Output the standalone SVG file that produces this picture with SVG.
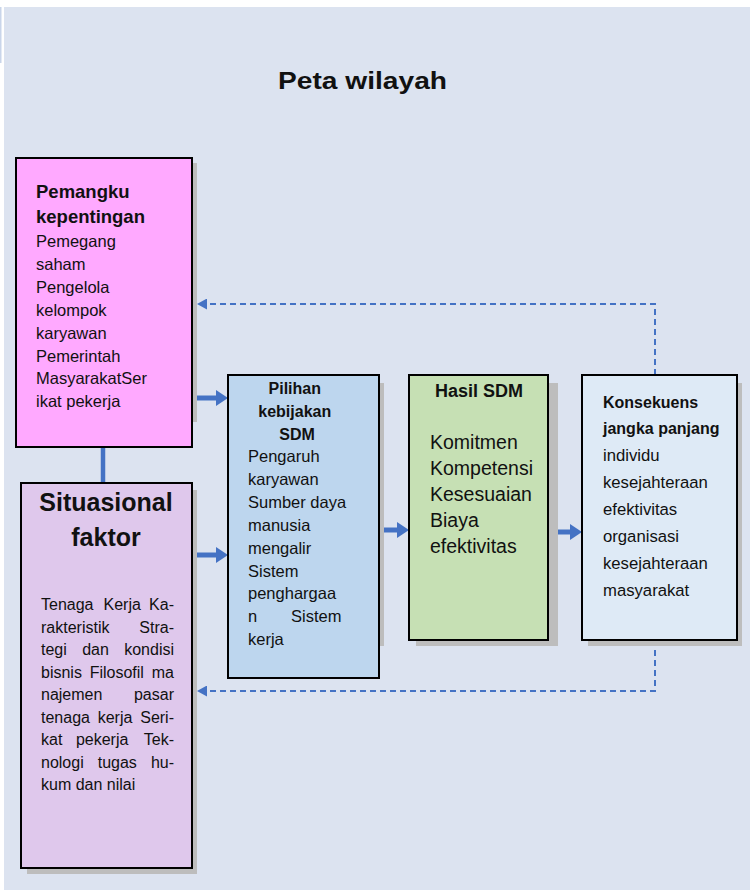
<svg xmlns="http://www.w3.org/2000/svg" width="750" height="890" viewBox="0 0 750 890">
  <style>
    text { font-family: "Liberation Sans", Arial, sans-serif; fill: #111; }
    .b { font-weight: bold; }
    .box { stroke: #000; stroke-width: 2; }
    .shadow { fill: #bdbdbd; }
    .flow { stroke: #4472C4; stroke-width: 5; fill: none; }
    .fb { stroke: #4472C4; stroke-width: 2; stroke-dasharray: 6 4; fill: none; }
    .t16 { font-size: 16px; }
    .t165 { font-size: 16.5px; }
  </style>
  <defs>
    <marker id="head" markerUnits="userSpaceOnUse" markerWidth="13" markerHeight="16" refX="4" refY="8" orient="auto">
      <path d="M0,0 L12,8 L0,16 z" fill="#4472C4"/>
    </marker>
    <marker id="headSmall" markerUnits="userSpaceOnUse" markerWidth="11" markerHeight="11" refX="3" refY="5.5" orient="auto">
      <path d="M0,0 L10,5.5 L0,11 z" fill="#4472C4"/>
    </marker>
  </defs>

  <!-- page -->
  <rect x="0" y="0" width="750" height="890" fill="#ffffff"/>
  <rect x="4" y="7" width="746" height="883" fill="#dce3f0"/>
  <rect x="0" y="7" width="1.5" height="56" fill="#c9d5ea"/>

  <text x="362.5" y="89" class="b" font-size="24" text-anchor="middle" textLength="169" lengthAdjust="spacingAndGlyphs">Peta wilayah</text>

  <!-- connectors -->
  <g id="connectors">
    <line x1="103" y1="447" x2="103" y2="483" stroke="#4472C4" stroke-width="4.5"/>
    <line class="flow" x1="197" y1="398" x2="220" y2="398" marker-end="url(#head)"/>
    <line class="flow" x1="197" y1="555" x2="220" y2="555" marker-end="url(#head)"/>
    <line class="flow" x1="380" y1="530" x2="401" y2="530" marker-end="url(#head)"/>
    <line class="flow" x1="552" y1="532" x2="574" y2="532" marker-end="url(#head)"/>
    <path class="fb" d="M655,375 V304 H204" marker-end="url(#headSmall)"/>
    <path class="fb" d="M655,640 V691 H204" marker-end="url(#headSmall)"/>
  </g>

  <!-- Pemangku kepentingan -->
  <g id="stakeholders">
    <rect class="shadow" x="21" y="163" width="176" height="259"/>
    <rect class="box" x="16" y="158" width="176" height="289" fill="#ffa9ff"/>
    <text class="b" font-size="18.5" x="36" y="198">Pemangku</text>
    <text class="b" font-size="18.5" x="36" y="223">kepentingan</text>
    <text class="t165" x="36">
      <tspan x="36" y="247">Pemegang</tspan>
      <tspan x="36" y="270">saham</tspan>
      <tspan x="36" y="293">Pengelola</tspan>
      <tspan x="36" y="316">kelompok</tspan>
      <tspan x="36" y="338.5">karyawan</tspan>
      <tspan x="36" y="361.5">Pemerintah</tspan>
      <tspan x="36" y="384">MasyarakatSer</tspan>
      <tspan x="36" y="407">ikat pekerja</tspan>
    </text>
  </g>

  <!-- Situasional faktor -->
  <g id="situational">
    <rect class="shadow" x="27" y="490" width="170" height="384"/>
    <rect class="box" x="21" y="483" width="171" height="385" fill="#dfc8ec"/>
    <text class="b" font-size="25" x="106" y="511" text-anchor="middle">Situasional</text>
    <text class="b" font-size="25" x="106" y="546" text-anchor="middle">faktor</text>
    <g class="t16">
      <text class="t16" y="610"><tspan x="41">Tenaga</tspan><tspan x="103.5">Kerja</tspan><tspan x="174" text-anchor="end">Ka-</tspan></text>
      <text class="t16" y="632.5"><tspan x="41">rakteristik</tspan><tspan x="174" text-anchor="end">Stra-</tspan></text>
      <text class="t16" y="655"><tspan x="41">tegi</tspan><tspan x="82.2">dan</tspan><tspan x="174" text-anchor="end">kondisi</tspan></text>
      <text class="t16" y="677.5"><tspan x="41">bisnis</tspan><tspan x="89.7">Filosofil</tspan><tspan x="174" text-anchor="end">ma</tspan></text>
      <text class="t16" y="700"><tspan x="41">najemen</tspan><tspan x="174" text-anchor="end">pasar</tspan></text>
      <text class="t16" y="722.5"><tspan x="41">tenaga</tspan><tspan x="97.7">kerja</tspan><tspan x="174" text-anchor="end">Seri-</tspan></text>
      <text class="t16" y="745"><tspan x="41">kat</tspan><tspan x="75.9">pekerja</tspan><tspan x="174" text-anchor="end">Tek-</tspan></text>
      <text class="t16" y="767.5"><tspan x="41">nologi</tspan><tspan x="97.7">tugas</tspan><tspan x="174" text-anchor="end">hu-</tspan></text>
      <text class="t16" x="41" y="790">kum dan nilai</text>
    </g>
  </g>

  <!-- Pilihan kebijakan SDM -->
  <g id="policy">
    <rect class="shadow" x="234" y="383" width="150" height="263"/>
    <rect class="box" x="228" y="375" width="151" height="303" fill="#bdd6ee"/>
    <text class="b" font-size="16" text-anchor="middle">
      <tspan x="297" y="394">Pilihan</tspan>
      <tspan x="297" y="417">kebijakan</tspan>
      <tspan x="297" y="440">SDM</tspan>
    </text>
    <text class="t165">
      <tspan x="248" y="462">Pengaruh</tspan>
      <tspan x="248" y="485">karyawan</tspan>
      <tspan x="248" y="508">Sumber daya</tspan>
      <tspan x="248" y="531">manusia</tspan>
      <tspan x="248" y="553.5">mengalir</tspan>
      <tspan x="248" y="576.5">Sistem</tspan>
      <tspan x="248" y="599">penghargaa</tspan>
      <tspan x="248" y="622">n</tspan>
      <tspan x="346" y="622" text-anchor="end">Sistem</tspan>
      <tspan x="248" y="644.5">kerja</tspan>
    </text>
  </g>

  <!-- Hasil SDM -->
  <g id="outcomes">
    <rect class="shadow" x="416" y="383" width="142" height="263"/>
    <rect class="box" x="409" y="375" width="139" height="265" fill="#c6e0b4"/>
    <text class="b" font-size="18" x="479" y="397" text-anchor="middle">Hasil SDM</text>
    <text font-size="19.5">
      <tspan x="430" y="449">Komitmen</tspan>
      <tspan x="430" y="475">Kompetensi</tspan>
      <tspan x="430" y="501">Kesesuaian</tspan>
      <tspan x="430" y="527">Biaya</tspan>
      <tspan x="430" y="553">efektivitas</tspan>
    </text>
  </g>

  <!-- Konsekuens jangka panjang -->
  <g id="consequences">
    <rect class="shadow" x="588" y="383" width="154" height="263"/>
    <rect class="box" x="582" y="375" width="155" height="265" fill="#deeaf6"/>
    <text class="b" font-size="16">
      <tspan x="603" y="408">Konsekuens</tspan>
      <tspan x="603" y="434">jangka panjang</tspan>
    </text>
    <text font-size="16.7">
      <tspan x="603" y="461">individu</tspan>
      <tspan x="603" y="488">kesejahteraan</tspan>
      <tspan x="603" y="515">efektivitas</tspan>
      <tspan x="603" y="542">organisasi</tspan>
      <tspan x="603" y="569">kesejahteraan</tspan>
      <tspan x="603" y="596">masyarakat</tspan>
    </text>
  </g>
</svg>
